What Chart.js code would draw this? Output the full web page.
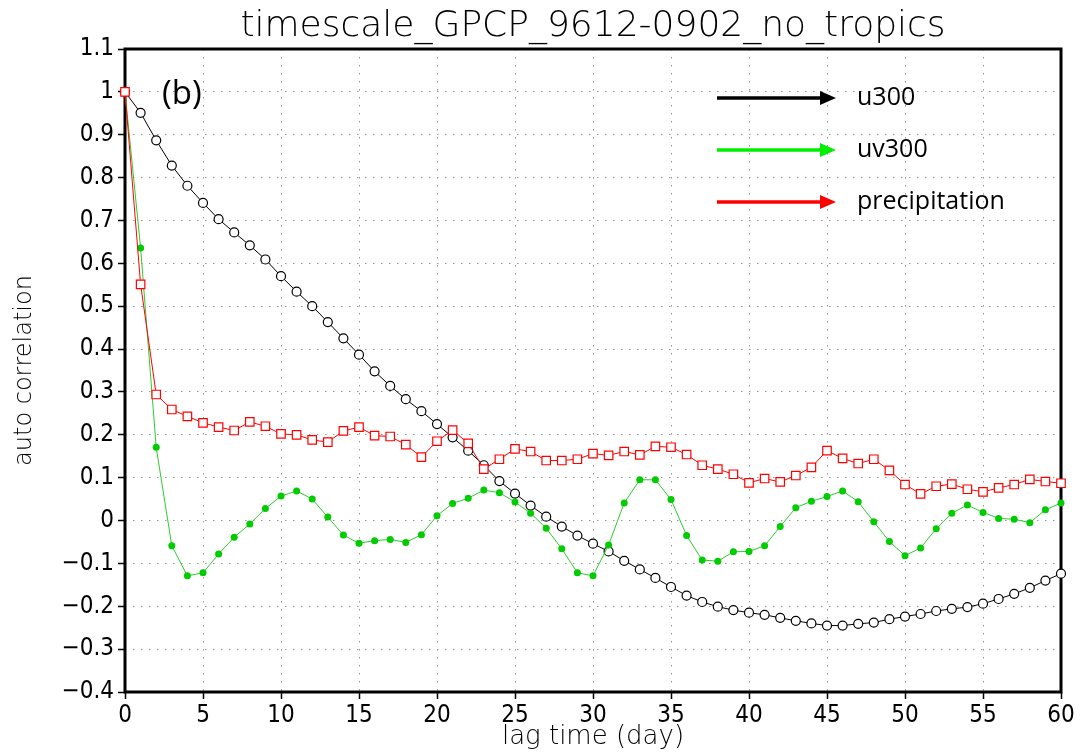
<!DOCTYPE html>
<html>
<head>
<meta charset="utf-8">
<script src="https://cdn.jsdelivr.net/npm/chart.js@4.4.0/dist/chart.umd.min.js"></script>
<style>
  html, body { margin: 0; padding: 0; background: #fff; }
  #wrap { width: 1081px; height: 753px; }
</style>
</head>
<body>
<div id="wrap"><canvas id="acChart" width="1081" height="753"></canvas></div>
<script>
const chartTitle = "timescale_GPCP_9612-0902_no_tropics";
const panelTag = "(b)";

const days = [0, 1, 2, 3, 4, 5, 6, 7, 8, 9, 10, 11, 12, 13, 14, 15, 16, 17, 18, 19, 20,
    21, 22, 23, 24, 25, 26, 27, 28, 29, 30, 31, 32, 33, 34, 35, 36, 37, 38, 39, 40,
    41, 42, 43, 44, 45, 46, 47, 48, 49, 50, 51, 52, 53, 54, 55, 56, 57, 58, 59, 60];

const u300 = [1.0, 0.951, 0.887, 0.828, 0.781, 0.741, 0.703, 0.672, 0.642, 0.609,
    0.570, 0.534, 0.500, 0.463, 0.425, 0.387, 0.348, 0.314, 0.283, 0.255,
    0.225, 0.194, 0.163, 0.129, 0.092, 0.063, 0.035, 0.009, -0.014, -0.035,
    -0.054, -0.072, -0.094, -0.114, -0.134, -0.155, -0.175, -0.190, -0.201, -0.209,
    -0.215, -0.220, -0.227, -0.234, -0.240, -0.245, -0.245, -0.241, -0.238, -0.230,
    -0.224, -0.218, -0.211, -0.206, -0.202, -0.194, -0.183, -0.171, -0.157, -0.140, -0.124];

const uv300 = [1.0, 0.636, 0.171, -0.059, -0.129, -0.122, -0.078, -0.039, -0.008, 0.028,
    0.057, 0.069, 0.050, 0.008, -0.034, -0.053, -0.047, -0.044, -0.051, -0.033,
    0.011, 0.040, 0.052, 0.071, 0.065, 0.043, 0.017, -0.018, -0.066, -0.122,
    -0.129, -0.057, 0.041, 0.095, 0.095, 0.049, -0.035, -0.092, -0.095, -0.073,
    -0.072, -0.059, -0.014, 0.030, 0.045, 0.056, 0.069, 0.044, -0.003, -0.049,
    -0.082, -0.064, -0.019, 0.017, 0.036, 0.019, 0.005, 0.003, -0.005, 0.025, 0.041];

const precipitation = [1.0, 0.551, 0.294, 0.259, 0.243, 0.228, 0.218, 0.210, 0.230, 0.220,
    0.202, 0.200, 0.188, 0.183, 0.209, 0.218, 0.198, 0.196, 0.177, 0.148,
    0.185, 0.211, 0.180, 0.120, 0.143, 0.167, 0.161, 0.140, 0.140, 0.143,
    0.156, 0.152, 0.161, 0.153, 0.173, 0.171, 0.154, 0.129, 0.120, 0.108,
    0.088, 0.098, 0.090, 0.105, 0.124, 0.163, 0.145, 0.133, 0.143, 0.117,
    0.084, 0.062, 0.080, 0.085, 0.073, 0.067, 0.076, 0.084, 0.096, 0.091, 0.087];

const thinFont = "'DejaVu Sans', sans-serif";
const tickFont = "'Liberation Sans Narrow', 'DejaVu Sans Condensed', sans-serif";
const legendFont = "'Open Sans', 'Noto Sans', sans-serif";

const toPoints = (vals) => days.map((d, i) => ({ x: d, y: vals[i] }));

// GrADS style labels: "1", "0.9", "0", "−0.1"
const fmtTick = (v) => {
    const r = Math.round(v * 10) / 10;
    if (r < 0) return "\u2212" + Math.abs(r);
    return String(r);
};

// thick black box round the plot area
const frame = {
    id: "frame",
    beforeDatasetsDraw(chart) {
        const { ctx, chartArea: a } = chart;
        ctx.save();
        ctx.strokeStyle = "#000";
        ctx.lineWidth = 3;
        ctx.strokeRect(a.left, a.top, a.right - a.left, a.bottom - a.top);
        ctx.restore();
    },
};

// title, (b) tag and the arrow legend
const decorations = {
    id: "decorations",
    afterDraw(chart) {
        const { ctx, chartArea: a } = chart;
        ctx.save();
        ctx.fillStyle = "#000";
        ctx.font = "200 36px " + thinFont;
        ctx.textAlign = "center";
        ctx.textBaseline = "alphabetic";
        ctx.fillText(chartTitle, (a.left + a.right) / 2, 36);

        ctx.font = "33px " + legendFont;
        ctx.textAlign = "left";
        ctx.textBaseline = "middle";
        ctx.fillText(panelTag, 162, 95);

        const rows = [98, 150, 202];
        chart.data.datasets.forEach((ds, i) => {
            const y = rows[i];
            ctx.strokeStyle = ds.legendColor;
            ctx.fillStyle = ds.legendColor;
            ctx.lineWidth = 3.5;
            ctx.beginPath();
            ctx.moveTo(717, y);
            ctx.lineTo(822, y);
            ctx.stroke();
            ctx.beginPath();
            ctx.moveTo(836, y);
            ctx.lineTo(820, y - 7);
            ctx.lineTo(820, y + 7);
            ctx.closePath();
            ctx.fill();
            ctx.fillStyle = "#000";
            ctx.font = "25px " + legendFont;
            ctx.fillText(ds.label, 857, y);
        });
        ctx.restore();
    },
};

const datasets = [
    {
        label: "u300",
        data: toPoints(u300),
        borderColor: "#000",
        borderWidth: 1,
        pointStyle: "circle",
        pointRadius: 4.5,
        pointBorderWidth: 1.2,
        pointBackgroundColor: "#fff",
        pointBorderColor: "#000",
        legendColor: "#000",
        order: 2,
    },
    {
        label: "uv300",
        data: toPoints(uv300),
        borderColor: "#2ccc2c",
        borderWidth: 1,
        pointStyle: "circle",
        pointRadius: 3.5,
        pointBorderWidth: 0,
        pointBackgroundColor: "#00cc00",
        pointBorderColor: "#00cc00",
        legendColor: "#00ee00",
        order: 1,
    },
    {
        label: "precipitation",
        data: toPoints(precipitation),
        borderColor: "#f00",
        borderWidth: 1,
        pointStyle: "rect",
        pointRadius: 6,
        pointBorderWidth: 1.2,
        pointBackgroundColor: "#fff",
        pointBorderColor: "#f00",
        legendColor: "#f00",
        order: 0,
    },
];

new Chart(document.getElementById("acChart"), {
    type: "line",
    data: { datasets: datasets },
    options: {
        responsive: false,
        animation: false,
        devicePixelRatio: 1,
        clip: false,
        layout: { padding: { top: 49, right: 20, left: 0, bottom: 0 } },
        plugins: {
            legend: { display: false },
            tooltip: { enabled: false },
        },
        elements: { line: { tension: 0 } },
        scales: {
            x: {
                type: "linear",
                min: 0,
                max: 60,
                ticks: {
                    stepSize: 5,
                    color: "#000",
                    padding: 2,
                    maxRotation: 0,
                    font: { family: tickFont, size: 24 },
                },
                grid: {
                    color: "#999",
                    lineWidth: 1,
                    tickColor: "#000",
                    tickLength: 7,
                    tickWidth: 1.5,
                    tickBorderDash: [],
                },
                border: { display: false, dash: [1.5, 6.5] },
                title: {
                    display: true,
                    text: "lag time (day)",
                    color: "#000",
                    font: { family: thinFont, size: 26, weight: 200 },
                    padding: { top: 0, bottom: 0 },
                },
                afterFit(scale) {
                    scale.height = 61;
                },
            },
            y: {
                type: "linear",
                min: -0.4,
                max: 1.1,
                ticks: {
                    stepSize: 0.1,
                    color: "#000",
                    padding: 4,
                    font: { family: tickFont, size: 24 },
                    callback: (v) => fmtTick(v),
                },
                grid: {
                    color: "#999",
                    lineWidth: 1,
                    tickColor: "#000",
                    tickLength: 7,
                    tickWidth: 1.5,
                    tickBorderDash: [],
                },
                border: { display: false, dash: [1.5, 6.5] },
                title: {
                    display: true,
                    text: "auto correlation",
                    color: "#000",
                    font: { family: thinFont, size: 24, weight: 200 },
                    padding: { top: 10, bottom: 0 },
                },
                afterFit(scale) {
                    scale.width = 125;
                },
            },
        },
    },
    plugins: [frame, decorations],
});
</script>
</body>
</html>
